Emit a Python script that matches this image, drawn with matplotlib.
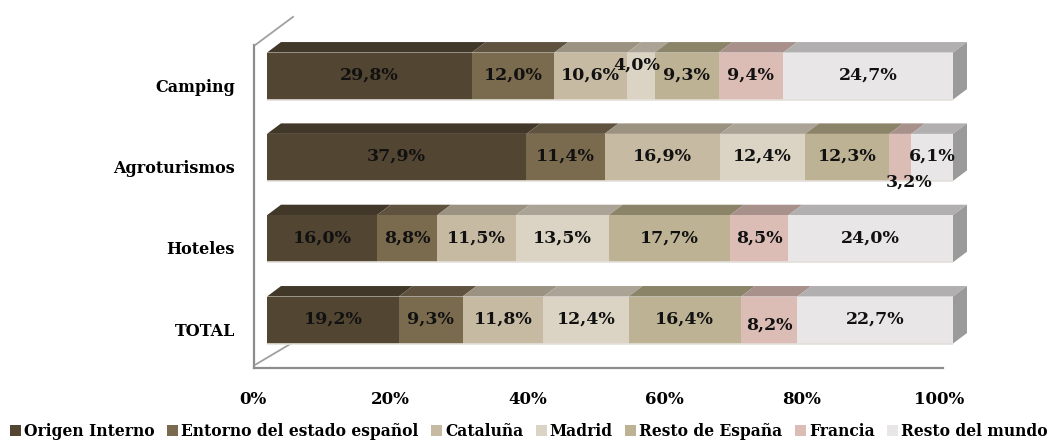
import matplotlib
matplotlib.use("Agg")
import matplotlib.pyplot as plt
import matplotlib.transforms as mtransforms
from matplotlib.patches import Polygon
from matplotlib.lines import Line2D
import numpy as np

# data (percent of visitors by origin)
categories = ['Camping', 'Agroturismos', 'Hoteles', 'TOTAL']
series = ['Origen Interno', 'Entorno del estado español', 'Cataluña', 'Madrid',
          'Resto de España', 'Francia', 'Resto del mundo']
camping = [29.8, 12.0, 10.6, 4.0, 9.3, 9.4, 24.7]
agroturismos = [37.9, 11.4, 16.9, 12.4, 12.3, 3.2, 6.1]
hoteles = [16.0, 8.8, 11.5, 13.5, 17.7, 8.5, 24.0]
total = [19.2, 9.3, 11.8, 12.4, 16.4, 8.2, 22.7]
rows = [camping, agroturismos, hoteles, total]
xticks = [0, 20, 40, 60, 80, 100]

# style
front = ['#524532', '#7a6a4e', '#c7baa2', '#dbd4c4', '#bdb294', '#dcbdb5', '#e8e6e7']
top = ['#42382a', '#5f533f', '#9c9281', '#aba395', '#8c8469', '#a8908b', '#b1afb0']
side = '#9a9a9a'
wall = '#8c8c8c'
font = ['DejaVu Serif']
# label nudges in pixels (row, series) where the original moved them
nudge = {(0, 3): (-4, 11), (1, 5): (9, -25), (3, 5): (0, -5)}

W, H = 1061, 444
fig = plt.figure(figsize=(W / 100, H / 100), dpi=100)
# front faces: 0% at x=267px, 100% at x=953px; row spacing ~81px
ax = fig.add_axes([267 / W, 83.3 / H, 686 / W, 325.3 / H])
ax.set_xlim(0, 100)
ax.set_ylim(-0.5, len(categories) - 0.5)
for s in ax.spines.values():
    s.set_visible(False)

bar_h = 0.578
dx = 14 / 6.86      # depth in data units (x)
dy = 10.5 / 81.3    # depth in data units (y)
ypos = np.arange(len(categories))[::-1]

for r, vals in enumerate(rows):
    vals = np.array(vals) / np.sum(vals) * 100
    y = ypos[r]
    yb = y - bar_h / 2
    yt = y + bar_h / 2
    left = 0
    for i, v in enumerate(vals):
        ax.barh(y, v, left=left, height=bar_h, color=front[i], edgecolor='none', zorder=3)
        ax.add_patch(Polygon([(left, yt), (left + v, yt), (left + v + dx, yt + dy),
                              (left + dx, yt + dy)], closed=True, facecolor=top[i],
                             edgecolor='none', zorder=2, clip_on=False))
        off = nudge.get((r, i), (0, 1))
        ax.annotate(('%.1f%%' % rows[r][i]).replace('.', ','),
                    (left + v / 2, y), xytext=(off[0] * 0.72, off[1] * 0.72),
                    textcoords='offset points', ha='center', va='center',
                    fontsize=12.5, fontweight='bold', family=font, color='#111111',
                    zorder=5, annotation_clip=False)
        left += v
    # thin light strip along the bottom of the front face
    ax.plot([0, 100], [yb, yb], color='#e4e0da', lw=1.2, zorder=4, solid_capstyle='butt')
    ax.add_patch(Polygon([(100, yb), (100, yt), (100 + dx, yt + dy), (100 + dx, yb + dy)],
                         closed=True, facecolor=side, edgecolor='none', zorder=2, clip_on=False))

# walls (floor front edge and side wall)
t = ax.transAxes
ax.add_line(Line2D([-0.019, -0.019], [-0.022, 0.970], color=wall, lw=1.6, transform=t, clip_on=False, zorder=1))
ax.add_line(Line2D([-0.019, 0.985], [-0.022, -0.022], color=wall, lw=1.6, transform=t, clip_on=False, zorder=1))
ax.add_line(Line2D([-0.0175, 0.038], [0.970, 1.057], color='#a0a0a0', lw=1.3, transform=t, clip_on=False, zorder=1))
ax.add_line(Line2D([-0.0175, 0.036], [-0.013, 0.054], color='#a0a0a0', lw=1.3, transform=t, clip_on=False, zorder=1))

ax.set_xticks(xticks)
ax.set_xticklabels(['%d%%' % v for v in xticks], fontsize=12, fontweight='bold', family=font)
ax.set_yticks(ypos)
ax.set_yticklabels(categories, fontsize=11.5, fontweight='bold', family=font)
ax.tick_params(axis='x', length=0, pad=22)
ax.tick_params(axis='y', length=0, pad=23)
for lab in ax.get_xticklabels():
    lab.set_transform(lab.get_transform() + mtransforms.ScaledTranslation(-14 / 100, 0, fig.dpi_scale_trans))
for lab in ax.get_yticklabels():
    lab.set_transform(lab.get_transform() + mtransforms.ScaledTranslation(0, -9 / 100, fig.dpi_scale_trans))

handles = [plt.Rectangle((0, 0), 1, 1, facecolor=c, edgecolor='none') for c in front]
fig.legend(handles, series, loc='center', bbox_to_anchor=(529 / W, 13 / H), ncol=7,
           frameon=False, handlelength=0.7, handleheight=0.7, handletextpad=0.2,
           columnspacing=0.8, prop={'family': font, 'weight': 'bold', 'size': 11.2})

fig.savefig('out.png', dpi=100)
